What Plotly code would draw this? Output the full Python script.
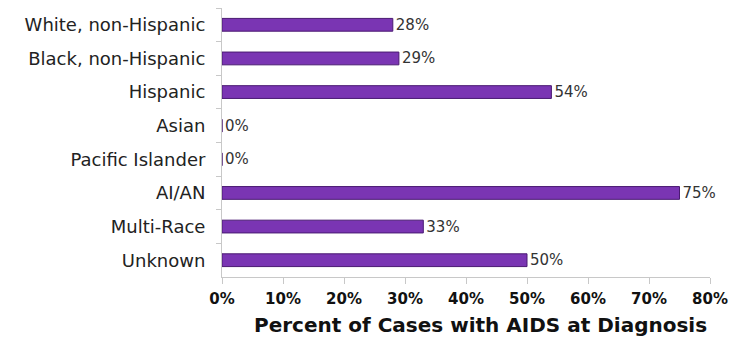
import plotly.graph_objects as go

categories = ["White, non-Hispanic", "Black, non-Hispanic", "Hispanic", "Asian",
              "Pacific Islander", "AI/AN", "Multi-Race", "Unknown"]
values = [28, 29, 54, 0, 0, 75, 33, 50]
x_ticks = [0, 10, 20, 30, 40, 50, 60, 70, 80]
x_tick_labels = [f"{v}%" for v in x_ticks]
x_title = "Percent of Cases with AIDS at Diagnosis"

fig = go.Figure(go.Bar(
    y=categories, x=values, orientation="h",
    width=0.38,
    marker=dict(color="#7a35b3", line=dict(color="#4a1a72", width=1)),
    text=[f"{v}%" for v in values], textposition="outside",
    constraintext="none",
    textfont=dict(family="DejaVu Sans", size=15, color="#333333"),
    cliponaxis=False,
))

fig.add_annotation(
    text=f"<b>{x_title}</b>", xref="paper", yref="paper",
    x=0.53, y=-0.18, xanchor="center", yanchor="middle", showarrow=False,
    font=dict(family="DejaVu Sans", size=20, color="#111111"),
)

fig.update_layout(
    width=741, height=343,
    margin=dict(l=222, r=31, t=8, b=66),
    paper_bgcolor="white", plot_bgcolor="white",
    showlegend=False,
    xaxis=dict(
        range=[0, 80], tickvals=x_ticks, ticktext=x_tick_labels,
        showgrid=False, zeroline=False,
        showline=True, linecolor="#c8c8c8", linewidth=1,
        ticks="outside", ticklen=6, tickcolor="#c8c8c8",
        ticklabelstandoff=2,
        tickfont=dict(family="DejaVu Sans", size=15, color="#111111", weight="bold"),
    ),
    yaxis=dict(
        categoryorder="array", categoryarray=categories, autorange="reversed",
        showgrid=False, zeroline=False,
        showline=True, linecolor="#c8c8c8", linewidth=1,
        ticks="outside", ticklen=5, tickcolor="#c8c8c8", tickson="boundaries",
        ticklabelstandoff=12,
        tickfont=dict(family="DejaVu Sans", size=18, color="#222222"),
    ),
)

fig.write_html("out.html")
